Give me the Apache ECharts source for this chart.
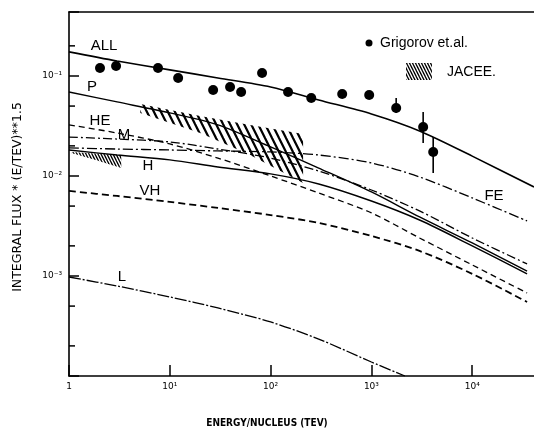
<!DOCTYPE html>
<html><head><meta charset="utf-8">
<script src="https://cdn.jsdelivr.net/npm/echarts@6/dist/echarts.min.js"></script>
<style>html,body{margin:0;padding:0;background:#fff}#c{width:534px;height:431px}</style>
</head><body><div id="c"></div>
<script>
// ---- data (energy in TeV/nucleus, integral flux * E^1.5) ----
const energy    = [1, 3, 10, 30, 100, 300, 1000, 3000, 10000, 35000];
const energyAll = [1, 3, 10, 30, 100, 300, 1000, 3000, 10000, 41000];
const fluxAll = [0.174, 0.141, 0.115, 0.0955, 0.0776, 0.0575, 0.0417, 0.0282, 0.0158, 0.00776];
const fluxP   = [0.0692, 0.0550, 0.0427, 0.0324, 0.0195, 0.0120, 0.00692, 0.00389, 0.00214, 0.00112];
const fluxHE  = [0.0324, 0.0269, 0.0209, 0.0151, 0.0100, 0.00676, 0.00427, 0.00240, 0.00129, 0.000676];
const fluxM   = [0.0245, 0.0234, 0.0219, 0.0186, 0.0151, 0.0112, 0.00724, 0.00447, 0.00240, 0.00132];
const fluxH   = [0.0182, 0.0162, 0.0145, 0.0123, 0.0105, 0.00832, 0.00562, 0.00363, 0.00200, 0.00105];
const fluxFE  = [0.0191, 0.0186, 0.0182, 0.0178, 0.0174, 0.0162, 0.0135, 0.00977, 0.00603, 0.00355];
const fluxVH  = [0.00708, 0.00631, 0.00550, 0.00479, 0.00407, 0.00339, 0.00251, 0.00178, 0.00105, 0.00055];
const energyL = [1, 3, 10, 30, 100, 300, 1000, 2150];
const fluxL   = [0.000977, 0.000794, 0.000617, 0.000479, 0.000347, 0.000234, 0.000138, 0.0001];

const grigorovE = [2.03, 2.93, 7.64, 12.1, 26.9, 39.6, 51.0, 82.3, 149, 253, 513, 950, 1760, 3260, 4100];
const grigorovF = [0.120, 0.126, 0.120, 0.0955, 0.0724, 0.0776, 0.0692, 0.107, 0.0692, 0.0603, 0.0661, 0.0646, 0.0479, 0.0309, 0.0174];
const errE  = [1760, 3260, 4100];
const errLo = [0.0427, 0.0214, 0.0107];
const errHi = [0.0603, 0.0437, 0.0245];

const jaceeE  = [5.1, 20, 62.6, 210];
const jaceeHi = [0.0525, 0.0398, 0.0324, 0.0263];
const jaceeLo = [0.0427, 0.0269, 0.0162, 0.0085];
const jacee2E  = [1.05, 1.8, 3.3];
const jacee2Hi = [0.0174, 0.0168, 0.0162];
const jacee2Lo = [0.0170, 0.0145, 0.0120];

const xTickLabels = {0: '1', 1: '10¹', 2: '10²', 3: '10³', 4: '10⁴'};
const yTickLabels = {'-1': '10⁻¹', '-2': '10⁻²', '-3': '10⁻³'};
const yMinorTicks = [0.2, 0.05, 0.02, 0.005, 0.002, 0.0005, 0.0002];

// ---- helpers ----
function hatch(w, h, lw) {
  const c = document.createElement('canvas'); c.width = w; c.height = h;
  const g = c.getContext('2d'); g.strokeStyle = '#000'; g.lineWidth = lw;
  for (const o of [-w, 0, w]) { g.beginPath(); g.moveTo(o - w, -h); g.lineTo(o + 2 * w, 2 * h); g.stroke(); }
  return c;
}
const hatchBig = hatch(7, 14, 2.2);
const hatchDense = hatch(3, 6, 1.3);

function band(E, hi, lo, pat) {
  return {
    type: 'custom', coordinateSystem: 'cartesian2d', z: 1, silent: true,
    data: [[E[0], hi[0]]],
    renderItem: function (params, api) {
      const pts = [];
      for (let i = 0; i < E.length; i++) pts.push(api.coord([E[i], hi[i]]));
      for (let i = E.length - 1; i >= 0; i--) pts.push(api.coord([E[i], lo[i]]));
      return { type: 'polygon', shape: { points: pts }, style: { fill: { image: pat, repeat: 'repeat' }, stroke: null } };
    }
  };
}
function curve(E, F, width, dash) {
  return {
    type: 'line', data: E.map((e, i) => [e, F[i]]), showSymbol: false, smooth: 0.3, z: 3,
    lineStyle: { color: '#000', width: width, type: dash }, silent: true
  };
}

const chart = echarts.init(document.getElementById('c'), null, { renderer: 'canvas' });
const lbl = (t, x, y, size) => ({ type: 'text', x: x, y: y, style: { text: t, font: (size || 15) + 'px "Liberation Sans", Arial, sans-serif', fill: '#000', align: 'center', verticalAlign: 'middle', textAlign: 'center', textVerticalAlign: 'middle' } });

chart.setOption({
  animation: false,
  backgroundColor: '#fff',
  grid: { left: 69, right: 0, top: 12, bottom: 55 },
  xAxis: [{
    type: 'log', logBase: 10, min: 1, max: 41000, splitNumber: 5,
    axisLine: { lineStyle: { color: '#000', width: 1.6 } },
    axisTick: { inside: true, length: 11, lineStyle: { color: '#000', width: 1.5 } },
    splitLine: { show: false }, minorTick: { show: false },
    axisLabel: {
      color: '#000', fontSize: 9, fontFamily: 'DejaVu Sans', margin: 6, showMinLabel: true, showMaxLabel: false,
      formatter: function (v) { const l = Math.round(Math.log10(v)); return (Math.abs(Math.log10(v) - l) < 1e-6 && xTickLabels[l] !== undefined) ? xTickLabels[l] : ''; }
    }
  }, {
    type: 'log', logBase: 10, min: 1, max: 41000, position: 'top',
    axisLine: { lineStyle: { color: '#000', width: 1.6 } }, axisTick: { show: false }, axisLabel: { show: false }, splitLine: { show: false }
  }],
  yAxis: {
    type: 'log', logBase: 10, min: 0.0001, max: 0.436, splitNumber: 4,
    axisLine: { lineStyle: { color: '#000', width: 1.6 } },
    axisTick: { inside: true, length: 10, lineStyle: { color: '#000', width: 1.5 } },
    splitLine: { show: false },
    axisLabel: {
      color: '#000', fontSize: 9, fontFamily: 'DejaVu Sans', margin: 7,
      formatter: function (v) { const l = Math.round(Math.log10(v)); return (Math.abs(Math.log10(v) - l) < 1e-6 && yTickLabels[String(l)] !== undefined) ? yTickLabels[String(l)] : ''; }
    }
  },
  series: [
    band(jaceeE, jaceeHi, jaceeLo, hatchBig),
    band(jacee2E, jacee2Hi, jacee2Lo, hatchDense),
    curve(energyAll, fluxAll, 1.6, 'solid'),
    curve(energy, fluxP, 1.4, 'solid'),
    curve(energy, fluxHE, 1.3, [6, 4]),
    curve(energy, fluxM, 1.3, [9, 3, 2, 3]),
    curve(energy, fluxH, 1.4, 'solid'),
    curve(energy, fluxFE, 1.3, [10, 3, 2, 3]),
    curve(energy, fluxVH, 1.8, [7, 4]),
    curve(energyL, fluxL, 1.3, [12, 2, 2, 2]),
    {
      type: 'scatter', data: grigorovE.map((e, i) => [e, grigorovF[i]]), symbol: 'circle', symbolSize: 10, z: 5,
      itemStyle: { color: '#000', opacity: 1 }, silent: true
    },
    {
      type: 'custom', coordinateSystem: 'cartesian2d', z: 5, silent: true,
      data: errE.map((e, i) => [e, errLo[i], errHi[i]]),
      renderItem: function (params, api) {
        const a = api.coord([api.value(0), api.value(1)]);
        const b = api.coord([api.value(0), api.value(2)]);
        return { type: 'line', shape: { x1: a[0], y1: a[1], x2: b[0], y2: b[1] }, style: { stroke: '#000', lineWidth: 1.6 } };
      }
    },
    {
      type: 'custom', coordinateSystem: 'cartesian2d', z: 5, silent: true, clip: false,
      data: yMinorTicks.map(v => [1, v]),
      renderItem: function (params, api) {
        const p = api.coord([api.value(0), api.value(1)]);
        return { type: 'line', shape: { x1: p[0], y1: p[1], x2: p[0] + 6, y2: p[1] }, style: { stroke: '#000', lineWidth: 1.5 } };
      }
    }
  ],
  graphic: [
    lbl('ALL', 104, 46), lbl('P', 92, 87), lbl('HE', 100, 121), lbl('M', 124, 135),
    lbl('H', 148, 166), lbl('VH', 150, 191), lbl('L', 122, 277), lbl('FE', 494, 196),
    { type: 'circle', shape: { cx: 369, cy: 43, r: 3.5 }, style: { fill: '#000' } },
    { type: 'text', x: 380, y: 43, style: { text: 'Grigorov et.al.', font: '14px "Liberation Sans", Arial, sans-serif', fill: '#000', align: 'left', verticalAlign: 'middle', textAlign: 'left', textVerticalAlign: 'middle' } },
    { type: 'rect', shape: { x: 406, y: 63, width: 26, height: 17 }, style: { fill: { image: hatchDense, repeat: 'repeat' } } },
    { type: 'text', x: 447, y: 72, style: { text: 'JACEE.', font: '14px "Liberation Sans", Arial, sans-serif', fill: '#000', align: 'left', verticalAlign: 'middle', textAlign: 'left', textVerticalAlign: 'middle' } },
    { type: 'text', x: 267, y: 423, style: { text: 'ENERGY/NUCLEUS (TEV)', font: 'bold 10px "DejaVu Sans Condensed", "DejaVu Sans", sans-serif', fill: '#000', align: 'center', verticalAlign: 'middle', textAlign: 'center', textVerticalAlign: 'middle' } },
    { type: 'text', x: 18, y: 197, rotation: Math.PI / 2, style: { text: 'INTEGRAL FLUX * (E/TEV)**1.5', font: '12.5px "DejaVu Sans", sans-serif', fill: '#000', align: 'center', verticalAlign: 'middle', textAlign: 'center', textVerticalAlign: 'middle' } }
  ]
});
</script>
</body></html>
